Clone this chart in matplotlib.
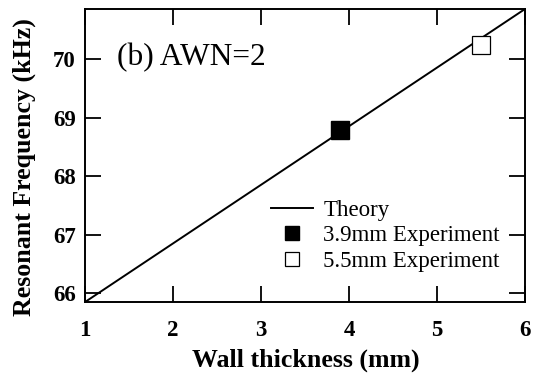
import matplotlib
matplotlib.use("Agg")
import matplotlib.pyplot as plt

plt.rcParams['font.family'] = ['Liberation Serif', 'DejaVu Serif']

# data
theory_x = [1, 6]
theory_y = [65.85, 70.86]
exp39_x = [3.9]
exp39_y = [68.79]
exp55_x = [5.5]
exp55_y = [70.25]

fig = plt.figure(figsize=(5.36, 3.74), dpi=100)
ax = fig.add_axes([85 / 536, 1 - 301.7 / 374, 440 / 536, 292.4 / 374])

ax.plot(theory_x, theory_y, color='black', lw=1.4, label='Theory')
ax.plot(exp39_x, exp39_y, 's', color='black', ms=13.4, label='3.9mm Experiment')
ax.plot(exp55_x, exp55_y, 's', mfc='white', mec='black', mew=0.9, ms=13.4,
        label='5.5mm Experiment')

ax.set_xlim(1, 6)
ax.set_ylim(65.856, 70.855)
ax.set_xticks([1, 2, 3, 4, 5, 6])
ax.set_yticks([66, 67, 68, 69, 70])
ax.tick_params(direction='in', length=11.5, width=1.3, top=True, right=True,
               labelsize=16.5)
ax.tick_params(axis='x', pad=13)
ax.tick_params(axis='y', pad=6.5)
for lab in ax.get_xticklabels() + ax.get_yticklabels():
    lab.set_fontweight('bold')
for s in ax.spines.values():
    s.set_linewidth(1.4)

ax.set_xlabel('Wall thickness (mm)', fontsize=18.6, fontweight='bold')
ax.set_ylabel('Resonant Frequency (kHz)', fontsize=18.6, fontweight='bold')
ax.xaxis.set_label_coords(0.501, -0.162)
ax.yaxis.set_label_coords(-0.112, 0.46)

ax.text(1.364, 70.03, '(b) AWN=2', fontsize=22.6, va='center', ha='left')

leg = ax.legend(loc='upper left', bbox_to_anchor=(0.423, 0.347), frameon=False,
                fontsize=16.5, borderpad=0, handlelength=1.83, handletextpad=0.44,
                labelspacing=0.18, markerscale=0.8, borderaxespad=0)

fig.savefig('out.png', dpi=100)
